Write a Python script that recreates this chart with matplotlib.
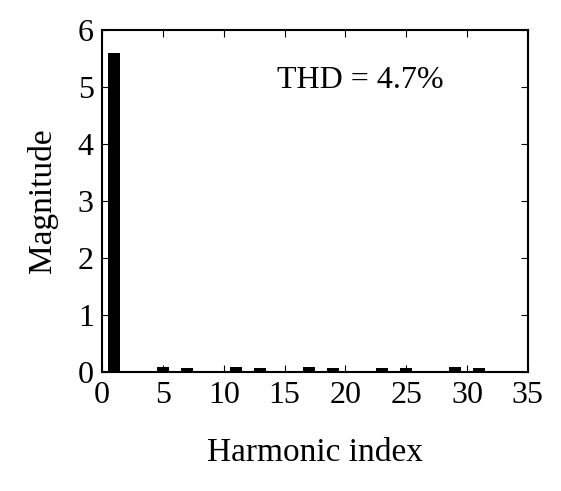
import matplotlib.pyplot as plt
import numpy as np

plt.rcParams['font.family'] = ['Liberation Serif']

harmonics = list(range(1, 34))
magnitude = [5.6, 0.02, 0.025, 0.015, 0.085, 0.015, 0.08, 0.015, 0.025, 0.015,
             0.09, 0.015, 0.08, 0.015, 0.025, 0.015, 0.085, 0.015, 0.075, 0.015,
             0.025, 0.015, 0.08, 0.015, 0.08, 0.015, 0.025, 0.015, 0.09, 0.025,
             0.08, 0.015, 0.02]

fig = plt.figure(figsize=(5.61, 4.91), dpi=100)
ax = fig.add_axes([0.182, 0.242, 0.759, 0.697])
ax.bar(harmonics, magnitude, width=0.95, color='black')
ax.set_xlim(0, 35)
ax.set_ylim(0, 6)
ax.set_xticks(range(0, 36, 5))
ax.set_yticks(range(0, 7))
ax.tick_params(direction='in', top=True, right=True, labelsize=23, length=5, pad=6)
for s in ax.spines.values():
    s.set_linewidth(1.5)
ax.set_xlabel('Harmonic index', fontsize=24, labelpad=20)
ax.set_ylabel('Magnitude', fontsize=24, labelpad=14)
ax.text(0.41, 0.83, 'THD = 4.7%', transform=ax.transAxes, fontsize=23)
fig.savefig('out.png', dpi=100)
